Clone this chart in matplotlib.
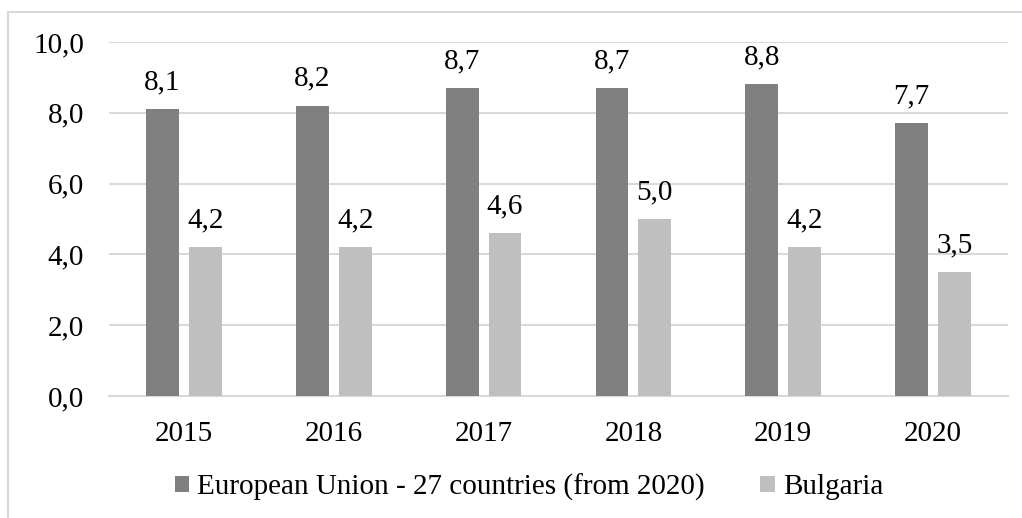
import numpy as np
import matplotlib
matplotlib.use("Agg")
import matplotlib.pyplot as plt
from matplotlib.patches import Rectangle

years = ["2015", "2016", "2017", "2018", "2019", "2020"]
eu_values = [8.1, 8.2, 8.7, 8.7, 8.8, 7.7]
bg_values = [4.2, 4.2, 4.6, 5.0, 4.2, 3.5]
series_names = ["European Union - 27 countries (from 2020)", "Bulgaria"]
yticks = [0, 2, 4, 6, 8, 10]

plt.rcParams["font.family"] = ["Liberation Serif", "DejaVu Serif"]
plt.rcParams["font.size"] = 21

W, H = 1022, 518
fig = plt.figure(figsize=(W / 100, H / 100), dpi=100)
ax = fig.add_axes([109 / W, 1 - 396 / H, (1008 - 109) / W, (396 - 42) / H])

# outer frame (cut off at right/bottom like the source)
fig.patches.append(Rectangle((8 / W, -0.1), 1.2, 1 - 12 / H + 0.1,
                             transform=fig.transFigure, fill=False,
                             edgecolor="#d9d9d9", lw=1.5))

x = np.arange(len(years))
bw = 0.22
off = 0.143
b1 = ax.bar(x - off, eu_values, bw, color="#808080", label=series_names[0], zorder=3)
b2 = ax.bar(x + off, bg_values, bw, color="#bfbfbf", label=series_names[1], zorder=3)

for bars, vals in ((b1, eu_values), (b2, bg_values)):
    for b, v in zip(bars, vals):
        ax.annotate(f"{v:.1f}".replace(".", ","),
                    (b.get_x() + b.get_width() / 2, v),
                    xytext=(0, 10), textcoords="offset points",
                    ha="center", va="bottom")

ax.set_xlim(-0.5, len(years) - 0.5)
ax.set_ylim(0, 10)
ax.set_yticks(yticks, [f"{t:.1f}".replace(".", ",") for t in yticks])
ax.set_xticks(x, years)
ax.grid(axis="y", color="#d9d9d9", lw=1.5, zorder=0)
for s in ("top", "right", "left"):
    ax.spines[s].set_visible(False)
ax.spines["bottom"].set_color("#d9d9d9")
ax.spines["bottom"].set_linewidth(1.5)
ax.tick_params(axis="x", length=0, pad=18)
ax.tick_params(axis="y", length=0, pad=18)

ax.legend(loc="center", bbox_to_anchor=(529 / W, 1 - 487 / H), bbox_transform=fig.transFigure,
          ncol=2, frameon=False, handlelength=0.5, handleheight=0.5,
          handletextpad=0.28, columnspacing=1.9, borderpad=0)

fig.savefig("out.png", dpi=100)
